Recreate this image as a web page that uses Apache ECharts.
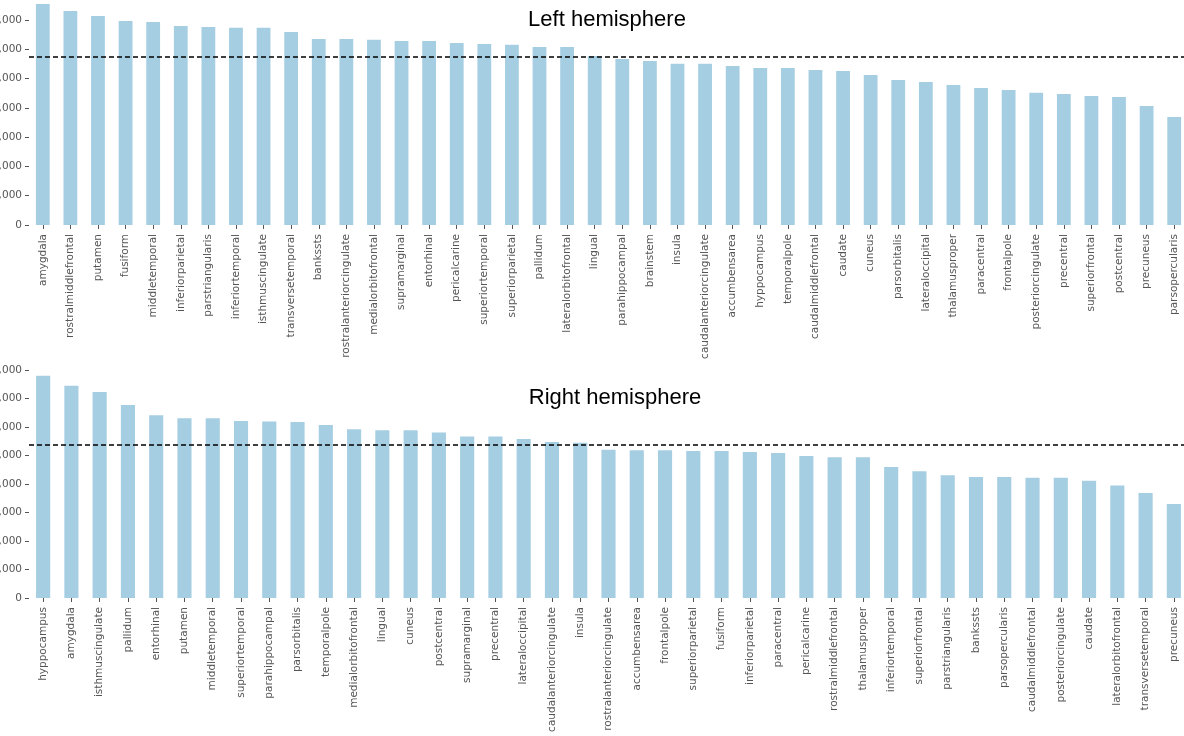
<!DOCTYPE html>
<html>
<head>
<meta charset="utf-8">
<script src="https://cdn.jsdelivr.net/npm/echarts@6/dist/echarts.min.js"></script>
<style>
  html, body { margin: 0; padding: 0; background: #fff; }
  #chart { width: 1184px; height: 736px; }
</style>
</head>
<body>
<div id="chart"></div>
<script>
// Per-region values, sorted high to low within each hemisphere
const leftRegions = ['amygdala', 'rostralmiddlefrontal', 'putamen', 'fusiform', 'middletemporal',
  'inferiorparietal', 'parstriangularis', 'inferiortemporal', 'isthmuscingulate', 'transversetemporal',
  'bankssts', 'rostralanteriorcingulate', 'medialorbitofrontal', 'supramarginal', 'entorhinal',
  'pericalcarine', 'superiortemporal', 'superiorparietal', 'pallidum', 'lateralorbitofrontal',
  'lingual', 'parahippocampal', 'brainstem', 'insula', 'caudalanteriorcingulate', 'accumbensarea',
  'hyppocampus', 'temporalpole', 'caudalmiddlefrontal', 'caudate', 'cuneus', 'parsorbitalis',
  'lateraloccipital', 'thalamusproper', 'paracentral', 'frontalpole', 'posteriorcingulate',
  'precentral', 'superiorfrontal', 'postcentral', 'precuneus', 'parsopercularis'];
const leftValues = [7545, 7306, 7135, 6965, 6930, 6790, 6760, 6730, 6730, 6590,
  6350, 6350, 6320, 6280, 6280, 6210, 6180, 6150, 6080, 6080,
  5770, 5670, 5600, 5500, 5500, 5430, 5360, 5360, 5290, 5260,
  5120, 4950, 4880, 4780, 4680, 4610, 4510, 4470, 4400, 4370, 4060, 3690];

const rightRegions = ['hyppocampus', 'amygdala', 'isthmuscingulate', 'pallidum', 'entorhinal',
  'putamen', 'middletemporal', 'superiortemporal', 'parahippocampal', 'parsorbitalis',
  'temporalpole', 'medialorbitofrontal', 'lingual', 'cuneus', 'postcentral', 'supramarginal',
  'precentral', 'lateraloccipital', 'caudalanteriorcingulate', 'insula', 'rostralanteriorcingulate',
  'accumbensarea', 'frontalpole', 'superiorparietal', 'fusiform', 'inferiorparietal', 'paracentral',
  'pericalcarine', 'rostralmiddlefrontal', 'thalamusproper', 'inferiortemporal', 'superiorfrontal',
  'parstriangularis', 'bankssts', 'parsopercularis', 'caudalmiddlefrontal', 'posteriorcingulate',
  'caudate', 'lateralorbitofrontal', 'transversetemporal', 'precuneus'];
const rightValues = [7800, 7450, 7230, 6770, 6410, 6310, 6310, 6210, 6190, 6180,
  6070, 5920, 5890, 5890, 5810, 5670, 5670, 5580, 5470, 5450,
  5200, 5180, 5180, 5160, 5160, 5120, 5090, 4980, 4940, 4940,
  4600, 4450, 4310, 4250, 4250, 4220, 4220, 4110, 3950, 3680, 3300];

const leftTicks = [0, 1000, 2000, 3000, 4000, 5000, 6000, 7000];
const rightTicks = [0, 1000, 2000, 3000, 4000, 5000, 6000, 7000, 8000];

const titles = ['Left hemisphere', 'Right hemisphere'];

const BAR = '#a6cee3';
const GREY = '#555555';
const LABEL_FONT = 'DejaVu Sans';

function fmt(v) {
  return v.toLocaleString('en-US');
}

function xAxis(gridIndex, cats) {
  return {
    type: 'category', gridIndex, data: cats,
    axisLine: { show: false },
    axisTick: { show: true, alignWithLabel: true, length: 4, lineStyle: { color: GREY, width: 1 } },
    axisLabel: { rotate: 90, interval: 0, color: GREY, fontFamily: LABEL_FONT, fontSize: 10.5, margin: 9 },
    splitLine: { show: false }
  };
}

function yAxis(gridIndex, max, ticks) {
  return {
    type: 'value', gridIndex, min: 0, max,
    axisLine: { show: false },
    axisTick: { show: true, length: 4, customValues: ticks, lineStyle: { color: GREY, width: 1 } },
    axisLabel: { color: GREY, fontFamily: LABEL_FONT, fontSize: 10.5, margin: 7,
      customValues: ticks, formatter: fmt },
    splitLine: { show: false }
  };
}

// Bars plus a dashed line at the hemisphere mean
function barSeries(idx, values) {
  return {
    type: 'bar', xAxisIndex: idx, yAxisIndex: idx, data: values,
    barWidth: '50%',
    itemStyle: { color: BAR },
    emphasis: { disabled: true },
    silent: true,
    clip: false,
    markLine: {
      silent: true, symbol: 'none',
      label: { show: false },
      lineStyle: { color: '#000', width: 1.5, type: [5, 3] },
      data: [{ type: 'average' }]
    }
  };
}

const chart = echarts.init(document.getElementById('chart'), null, { renderer: 'canvas' });
chart.setOption({
  animation: false,
  backgroundColor: '#fff',
  grid: [
    { left: 29, right: -4, top: 0, height: 225, outerBoundsMode: 'none', containLabel: false },
    { left: 29, right: -4, top: 361.6, height: 236.4, outerBoundsMode: 'none', containLabel: false }
  ],
  xAxis: [xAxis(0, leftRegions), xAxis(1, rightRegions)],
  yAxis: [yAxis(0, 7680, leftTicks), yAxis(1, 8295, rightTicks)],
  series: [barSeries(0, leftValues), barSeries(1, rightValues)],
  graphic: [
    { type: 'text', x: 607, y: 20, style: { text: titles[0], fill: '#000',
      font: '22px "Liberation Sans"', textAlign: 'center', textVerticalAlign: 'middle' } },
    { type: 'text', x: 615, y: 398, style: { text: titles[1], fill: '#000',
      font: '22px "Liberation Sans"', textAlign: 'center', textVerticalAlign: 'middle' } }
  ]
});
</script>
</body>
</html>
